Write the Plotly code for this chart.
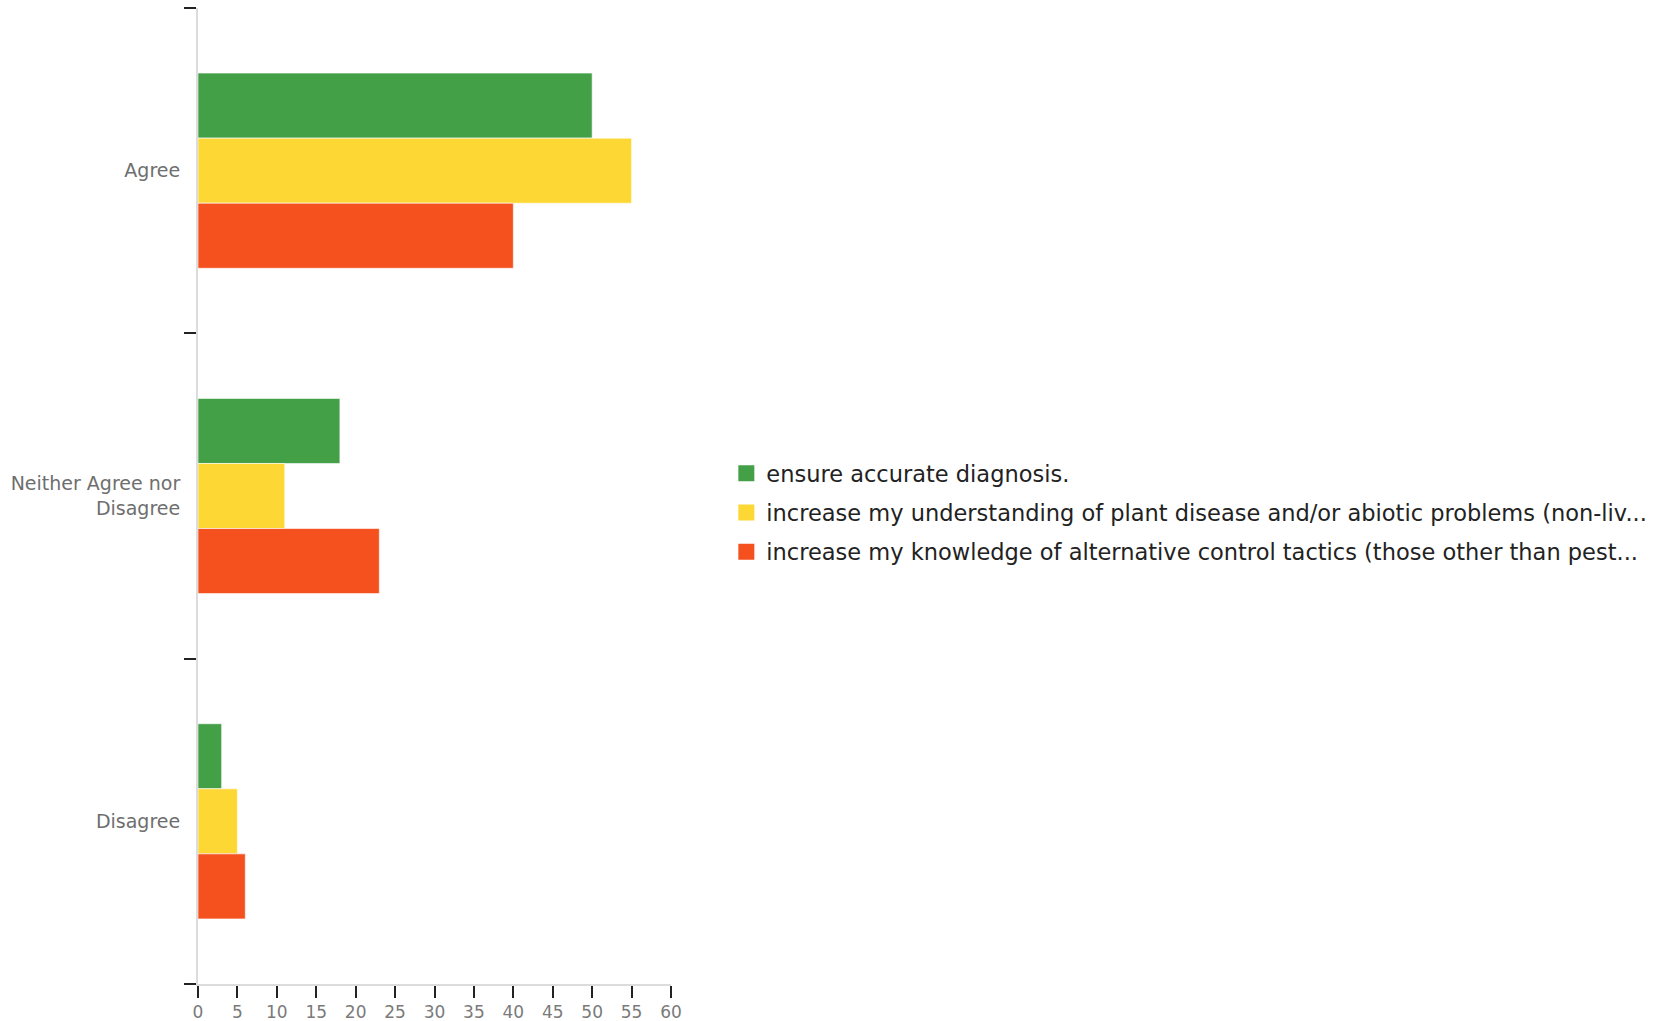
import plotly.graph_objects as go

# Response categories (top to bottom) and the three statements
categories = ["Agree", "Neither Agree nor Disagree", "Disagree"]
category_labels = ["Agree", "Neither Agree nor<br>Disagree", "Disagree"]

series_names = [
    "ensure accurate diagnosis.",
    "increase my understanding of plant disease and/or abiotic problems (non-liv...",
    "increase my knowledge of alternative control tactics (those other than pest...",
]
series_values = [
    [50, 18, 3],
    [55, 11, 5],
    [40, 23, 6],
]
series_colors = ["#43A047", "#FDD835", "#F4511E"]

x_ticks = list(range(0, 61, 5))

fig = go.Figure()

for i in range(len(series_names)):
    fig.add_trace(
        go.Bar(
            y=categories,
            x=series_values[i],
            name=series_names[i],
            orientation="h",
            marker=dict(color=series_colors[i],
                        line=dict(color="rgba(255,255,255,0.6)", width=1)),
            legendgroup=f"g{i}",
            showlegend=False,
        )
    )

# Legend entries with larger square swatches
for i in range(len(series_names)):
    fig.add_trace(
        go.Scatter(
            x=[None],
            y=[None],
            mode="markers",
            name=series_names[i],
            marker=dict(symbol="square", size=16, color=series_colors[i]),
            legendgroup=f"g{i}",
            showlegend=True,
            hoverinfo="skip",
        )
    )

fig.update_layout(
    width=1661,
    height=1021,
    margin=dict(l=198, r=990, t=8, b=37, autoexpand=False),
    paper_bgcolor="white",
    plot_bgcolor="white",
    barmode="group",
    bargap=0.4,
    bargroupgap=0,
    font=dict(family="DejaVu Sans, sans-serif"),
    showlegend=True,
    legend=dict(
        x=1.117,
        xanchor="left",
        y=0.483,
        yanchor="middle",
        font=dict(size=22.5, color="#222222"),
        tracegroupgap=7,
        itemsizing="trace",
        bgcolor="rgba(0,0,0,0)",
    ),
    xaxis=dict(
        range=[0, 60],
        tickvals=x_ticks,
        ticktext=[str(t) for t in x_ticks],
        showgrid=False,
        zeroline=False,
        showline=True,
        linecolor="#dcdcdc",
        linewidth=2,
        ticks="outside",
        ticklen=12,
        tickwidth=2,
        tickcolor="#222222",
        tickfont=dict(size=17, color="#7a7a7a"),
    ),
    yaxis=dict(
        categoryorder="array",
        categoryarray=categories,
        autorange="reversed",
        tickvals=categories,
        ticktext=category_labels,
        tickson="boundaries",
        showgrid=False,
        zeroline=False,
        showline=True,
        linecolor="#dcdcdc",
        linewidth=2,
        ticks="outside",
        ticklen=12,
        tickwidth=2,
        tickcolor="#222222",
        ticklabelstandoff=12,
        tickfont=dict(size=19, color="#6e6e6e"),
    ),
)

fig.write_html("out.html")
